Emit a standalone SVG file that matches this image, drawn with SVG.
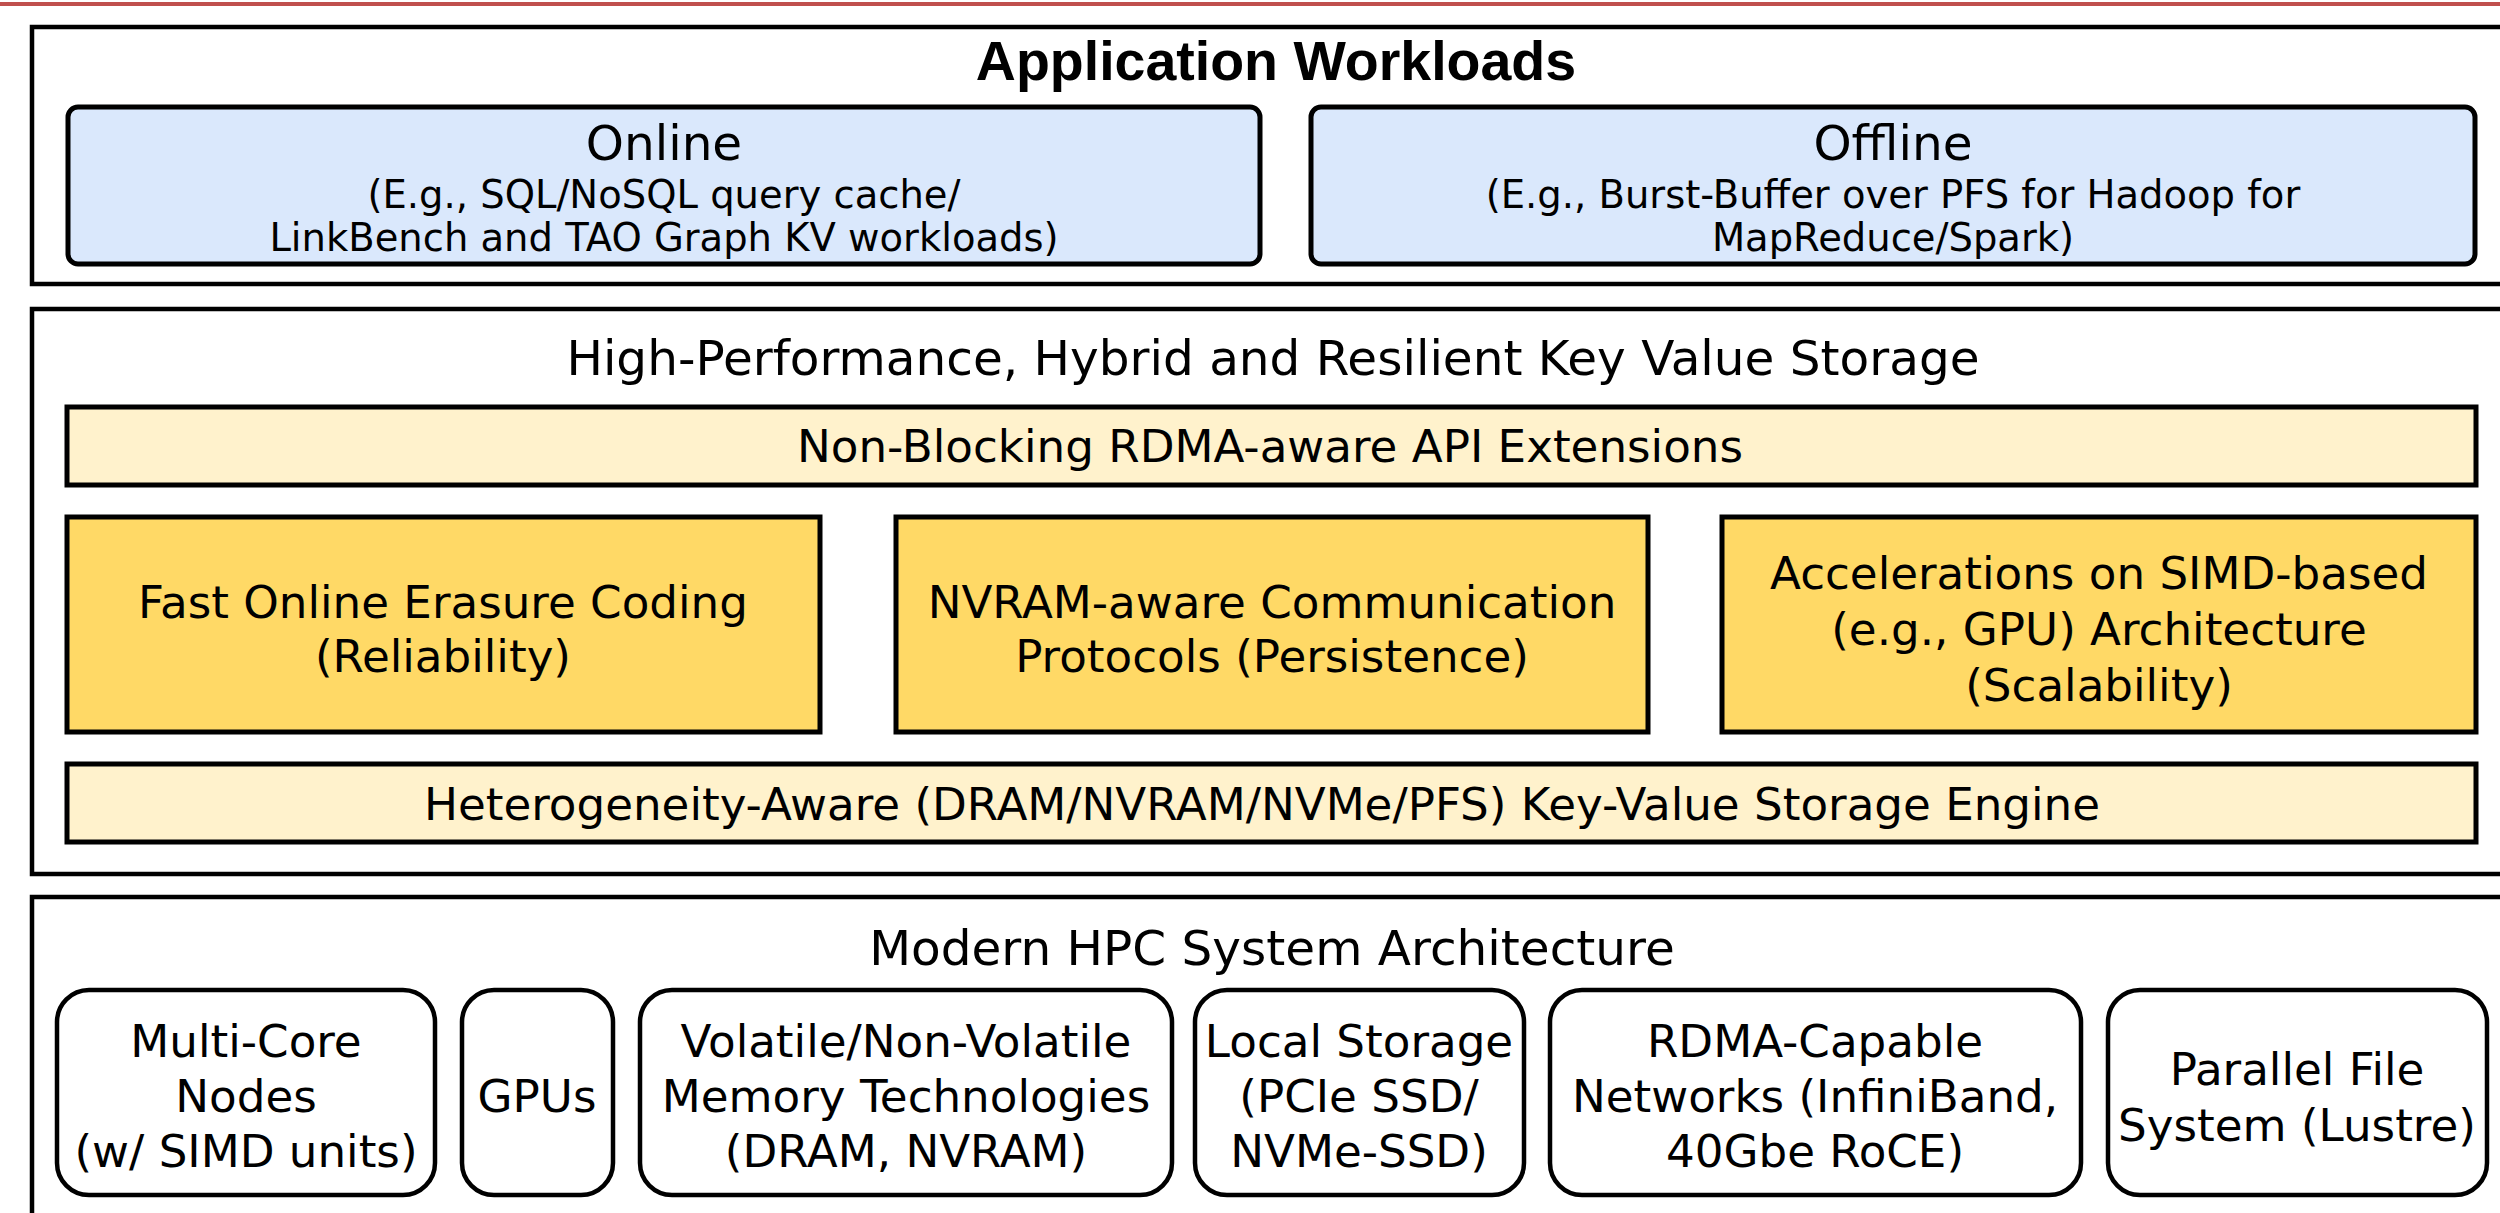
<svg xmlns="http://www.w3.org/2000/svg" width="2500" height="1213" viewBox="0 0 2500 1213">
  <style>
    .layer { fill: #ffffff; stroke: #000000; stroke-width: 4.5; }
    .wl { fill: #DAE8FC; stroke: #000000; stroke-width: 5; }
    .band { fill: #FFF2CC; stroke: #000000; stroke-width: 5; }
    .feat { fill: #FFD966; stroke: #000000; stroke-width: 5; }
    .hw { fill: #ffffff; stroke: #000000; stroke-width: 4.5; }
    text { font-family: "DejaVu Sans", Verdana, sans-serif; fill: #000000; text-anchor: middle; }
    .title { font-family: "Liberation Sans", Arial, sans-serif; font-weight: bold; font-size: 55.5px; }
    .head { font-size: 48.5px; }
    .body { font-size: 45.2px; }
    .sub { font-size: 38.5px; }
  </style>

  <!-- top rule -->
  <rect x="0" y="2" width="2500" height="4" fill="#C0504D"/>

  <!-- layer 1: application workloads -->
  <g id="layer-workloads">
    <rect class="layer" x="32" y="27" width="2520" height="257"/>
    <text class="title" x="1276" y="80">Application Workloads</text>
  </g>
  <g id="node-online">
    <rect class="wl" x="68" y="107" width="1192" height="157" rx="10"/>
    <text class="head" x="664" y="160">Online</text>
    <text class="sub" x="664" y="208">(E.g., SQL/NoSQL query cache/</text>
    <text class="sub" x="664" y="251">LinkBench and TAO Graph KV workloads)</text>
  </g>
  <g id="node-offline">
    <rect class="wl" x="1311" y="107" width="1164" height="157" rx="10"/>
    <text class="head" x="1893" y="160">Offline</text>
    <text class="sub" x="1893" y="208">(E.g., Burst-Buffer over PFS for Hadoop for</text>
    <text class="sub" x="1893" y="251">MapReduce/Spark)</text>
  </g>

  <!-- layer 2: key-value storage -->
  <g id="layer-kvstore">
    <rect class="layer" x="32" y="309" width="2520" height="565"/>
    <text class="head" x="1273" y="375">High-Performance, Hybrid and Resilient Key Value Storage</text>
  </g>
  <g id="node-api">
    <rect class="band" x="67" y="407" width="2409" height="78"/>
    <text class="body" x="1270" y="462">Non-Blocking RDMA-aware API Extensions</text>
  </g>
  <g id="node-erasure">
    <rect class="feat" x="67" y="517" width="753" height="215"/>
    <text class="body" x="443" y="618">Fast Online Erasure Coding</text>
    <text class="body" x="443" y="672">(Reliability)</text>
  </g>
  <g id="node-nvram">
    <rect class="feat" x="896" y="517" width="752" height="215"/>
    <text class="body" x="1272" y="618">NVRAM-aware Communication</text>
    <text class="body" x="1272" y="672">Protocols (Persistence)</text>
  </g>
  <g id="node-simd">
    <rect class="feat" x="1722" y="517" width="754" height="215"/>
    <text class="body" x="2099" y="589">Accelerations on SIMD-based</text>
    <text class="body" x="2099" y="645">(e.g., GPU) Architecture</text>
    <text class="body" x="2099" y="701">(Scalability)</text>
  </g>
  <g id="node-engine">
    <rect class="band" x="67" y="764" width="2409" height="78"/>
    <text class="body" x="1262" y="820">Heterogeneity-Aware (DRAM/NVRAM/NVMe/PFS) Key-Value Storage Engine</text>
  </g>

  <!-- layer 3: HPC system -->
  <g id="layer-hpc">
    <rect class="layer" x="32" y="897" width="2520" height="400"/>
    <text class="head" x="1272" y="965">Modern HPC System Architecture</text>
  </g>
  <g id="node-multicore">
    <rect class="hw" x="57" y="990" width="378" height="205" rx="32"/>
    <text class="body" x="246" y="1057">Multi-Core</text>
    <text class="body" x="246" y="1112">Nodes</text>
    <text class="body" x="246" y="1167">(w/ SIMD units)</text>
  </g>
  <g id="node-gpus">
    <rect class="hw" x="462" y="990" width="151" height="205" rx="32"/>
    <text class="body" x="537" y="1112">GPUs</text>
  </g>
  <g id="node-memory">
    <rect class="hw" x="640" y="990" width="532" height="205" rx="32"/>
    <text class="body" x="906" y="1057">Volatile/Non-Volatile</text>
    <text class="body" x="906" y="1112">Memory Technologies</text>
    <text class="body" x="906" y="1167">(DRAM, NVRAM)</text>
  </g>
  <g id="node-localstorage">
    <rect class="hw" x="1195" y="990" width="329" height="205" rx="32"/>
    <text class="body" x="1359" y="1057">Local Storage</text>
    <text class="body" x="1359" y="1112">(PCIe SSD/</text>
    <text class="body" x="1359" y="1167">NVMe-SSD)</text>
  </g>
  <g id="node-network">
    <rect class="hw" x="1550" y="990" width="531" height="205" rx="32"/>
    <text class="body" x="1815" y="1057">RDMA-Capable</text>
    <text class="body" x="1815" y="1112">Networks (InfiniBand,</text>
    <text class="body" x="1815" y="1167">40Gbe RoCE)</text>
  </g>
  <g id="node-pfs">
    <rect class="hw" x="2108" y="990" width="379" height="205" rx="32"/>
    <text class="body" x="2297" y="1085">Parallel File</text>
    <text class="body" x="2297" y="1141">System (Lustre)</text>
  </g>

  <!-- the layers are stacked without explicit connectors -->
  <g id="connectors"/>
</svg>
